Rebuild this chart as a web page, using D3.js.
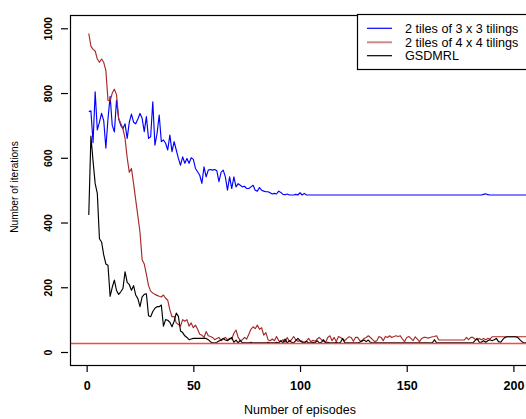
<!DOCTYPE html>
<html><head><meta charset="utf-8">
<script src="https://cdn.jsdelivr.net/npm/d3@7"></script>
<style>html,body{margin:0;padding:0;background:#fff;}svg{display:block;}</style>
</head><body>
<svg id="chart" width="526" height="419"></svg>
<script>
// ---- data ----
const seriesNames = ["2 tiles of 3 x 3 tilings", "2 tiles of 4 x 4 tilings", "GSDMRL"];
const xTicks = [0, 50, 100, 150, 200];
const yTicks = [0, 200, 400, 600, 800, 1000];
const refLevel = 26;

const blue3x3 = [
742,745,647,804,686,710,737,715,630,720,
790,700,680,778,720,700,690,705,660,710,
735,710,705,720,
737,722,681,727,660,665,773,639,675,732,
650,655,645,624,670,619,650,624,598,577,
603,583,598,583,600,595,567,557,546,521,
572,541,562,564,562,564,560,526,555,562,
541,500,541,505,541,510,520,515,510,512,
505,505,510,515,500,497,508,500,497,495,
495,492,488,490,488,497,493,487,486,488,
485,485,485,487,485,492,485,490,485,485,485,
485,485,485,485,485,485,485,485,485,485,485,485,485,485,485,485,485,485,485,485,
485,485,485,485,485,485,485,485,485,485,485,485,485,485,485,485,485,485,485,485,
485,485,485,485,485,485,485,485,485,485,485,485,485,485,485,485,485,485,485,485,
485,485,485,485,485,485,485,485,485,485,485,485,485,485,485,485,485,485,485,485,
487,489,486,
485,485,485,485,485,485,485,485,485,485,485,485,485,485,485,485,485,485,485,485,485,485
];

const red4x4 = [
984,945,935,930,905,895,905,895,870,778,
775,800,812,795,722,706,690,660,600,555,
567,520,470,420,370,285,272,240,205,188,
182,178,175,172,170,176,166,160,130,109,
110,90,85,80,100,95,100,80,90,75,
83,70,55,52,45,63,50,48,45,38,
42,45,35,40,45,38,42,40,58,68,
45,35,38,45,40,55,70,78,72,83,
70,75,52,60,38,35,40,35,48,35,
32,38,30,45,33,38,48,38,33,35,
33,30,34,42,32,36,33,40,45,38,
33,30,45,50,35,45,32,48,45,40,
35,42,47,45,33,45,45,35,32,42,
45,50,45,38,32,35,48,45,35,48,
45,50,45,48,50,48,50,40,32,45,
48,42,35,47,40,32,42,45,45,43,
45,47,48,50,37,37,37,37,37,37,
37,37,37,37,37,37,37,45,38,45,
45,40,38,42,38,42,38,42,40,47,
47,47,47,47,47,47,47,47,47,47,
47,47,47,47,47,47,47,47,47,47
];

const gsdmrl = [
423,667,590,520,490,350,340,300,272,268,
172,200,222,190,178,186,196,248,215,208,
191,205,176,165,140,170,178,180,112,109,
125,135,140,140,145,80,100,98,92,78,
95,120,110,65,60,50,45,38,40,42,
42,42,42,42,42,42,38,32,28,28,
30,34,37,42,37,35,40,45,30,37,
28,36,28,28,28,28,30,28,28,28,
28,28,28,28,30,28,28,28,30,28,
35,28,40,28,35,30,28,35,42,35,
30,28,33,28,28,30,28,35,28,30,
38,28,30,28,28,28,30,28,30,42,
28,28,28,28,28,28,28,30,35,37,
32,37,30,28,28,28,28,28,28,28,
28,28,28,28,28,28,28,28,28,28,
28,28,28,28,28,28,28,28,28,28,
28,28,38,28,28,28,28,28,28,28,
28,28,28,28,28,28,28,28,28,28,
28,35,42,30,30,35,30,35,38,35,
38,42,32,30,38,45,47,47,47,47,
47,45,38,32,28,28,28,28,28,28
];

const colors = ["#0000ff", "#a52a2a", "#000000"];
const legendColors = ["#0000ff", "#c98a8a", "#000000"];

// ---- layout ----
const svg = d3.select("#chart");
const box = {left: 70, top: 15, right: 577, bottom: 365};
const x = d3.scaleLinear().domain([-7.8, 229.8]).range([box.left, box.right]);
const y = d3.scaleLinear().domain([0, 1000]).range([352, 28.3]);

svg.append("defs").append("clipPath").attr("id", "clip")
  .append("rect").attr("x", box.left).attr("y", box.top)
  .attr("width", box.right - box.left).attr("height", box.bottom - box.top);

const plot = svg.append("g").attr("clip-path", "url(#clip)");
const line = d3.line().x((d, i) => x(i + 1)).y(d => y(d));

[blue3x3, red4x4, gsdmrl].forEach((s, i) => {
  plot.append("path").datum(s).attr("d", line)
    .attr("fill", "none").attr("stroke", colors[i])
    .attr("stroke-width", 1.15).attr("stroke-linejoin", "round");
});

plot.append("line")
  .attr("x1", box.left).attr("x2", box.right)
  .attr("y1", y(refLevel)).attr("y2", y(refLevel))
  .attr("stroke", "#ff4545").attr("stroke-width", 1.5);

// box
svg.append("rect").attr("x", box.left + 0.5).attr("y", box.top + 0.5)
  .attr("width", box.right - box.left).attr("height", box.bottom - box.top)
  .attr("fill", "none").attr("stroke", "#000").attr("stroke-width", 1.2);

// x axis
const xa = svg.append("g").attr("transform", `translate(0,${box.bottom})`)
  .call(d3.axisBottom(x).tickValues(xTicks).tickSize(7).tickPadding(9).tickFormat(d3.format("d")));
xa.select(".domain").remove();
xa.selectAll("line").attr("stroke", "#000").attr("stroke-width", 1.2);
xa.selectAll("text").attr("font-family", "Liberation Sans, Arial, sans-serif")
  .attr("font-size", 12.5).attr("font-weight", "bold").attr("fill", "#000");

// y axis
const ya = svg.append("g").attr("transform", `translate(${box.left - 2},0)`)
  .call(d3.axisLeft(y).tickValues(yTicks).tickSize(7).tickPadding(0).tickFormat(d3.format("d")));
ya.select(".domain").remove();
ya.selectAll("line").attr("stroke", "#000").attr("stroke-width", 1.2);
ya.selectAll("text")
  .attr("font-family", "Liberation Sans, Arial, sans-serif")
  .attr("font-size", 10.5).attr("font-weight", "bold").attr("fill", "#000")
  .attr("text-anchor", "middle").attr("x", 0)
  .attr("transform", `translate(-20,0) rotate(-90)`)
  .attr("dy", "0.35em");

// titles
svg.append("text").attr("x", 300).attr("y", 414).attr("text-anchor", "middle")
  .attr("font-family", "Liberation Sans, Arial, sans-serif").attr("font-size", 12.5)
  .text("Number of episodes");
svg.append("text").attr("transform", "translate(18,187) rotate(-90)").attr("text-anchor", "middle")
  .attr("font-family", "Liberation Sans, Arial, sans-serif").attr("font-size", 10.2)
  .text("Number of iterations");

// legend
const lg = svg.append("g");
lg.append("rect").attr("x", 357.5).attr("y", 14.5).attr("width", 220).attr("height", 55)
  .attr("fill", "#fff").attr("stroke", "#000").attr("stroke-width", 1.2);
const rows = [28.3, 42.3, 55.7];
seriesNames.forEach((n, i) => {
  lg.append("line").attr("x1", 367).attr("x2", 392).attr("y1", rows[i]).attr("y2", rows[i])
    .attr("stroke", legendColors[i]).attr("stroke-width", i === 1 ? 2 : 1.2);
  lg.append("text").attr("x", 405).attr("y", rows[i]).attr("dy", "0.36em")
    .attr("font-family", "Liberation Sans, Arial, sans-serif").attr("font-size", 12.6)
    .text(n);
});
</script>
</body></html>
